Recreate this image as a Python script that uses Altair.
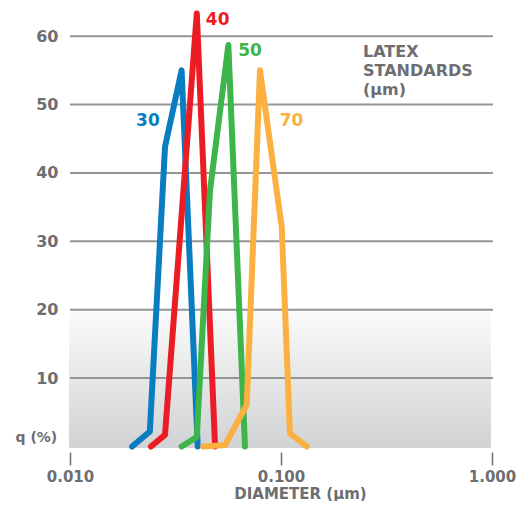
import altair as alt
import pandas as pd

# ---- data ----
sizes = ["30", "40", "50", "70"]
colors = ["#0a7cc1", "#ec1c24", "#3db54a", "#fbb040"]

d30_x = [0.0197, 0.0239, 0.0282, 0.0338, 0.0403]
d30_y = [0.0, 2.2, 43.8, 55.0, 0.0]
d40_x = [0.0242, 0.0282, 0.0399, 0.0487]
d40_y = [0.0, 1.7, 63.3, 0.0]
d50_x = [0.0338, 0.0399, 0.0461, 0.0563, 0.0675]
d50_y = [0.0, 1.4, 37.5, 58.7, 0.0]
d70_x = [0.0428, 0.0543, 0.0688, 0.0795, 0.1008, 0.1103, 0.1324]
d70_y = [0.0, 0.2, 6.1, 55.0, 32.1, 1.9, 0.0]

label_x = [0.0234, 0.0501, 0.0713, 0.1121]
label_y = [47.6, 62.4, 57.8, 47.6]

note_lines = ["LATEX", "STANDARDS", "(µm)"]
note_y = [57.7, 54.9, 52.1]
note_x = 0.2447

y_ticks = [10, 20, 30, 40, 50, 60]
x_ticks = [0.01, 0.1, 1.0]
shade_top = [20]

rows = []
for s, xs, ys in zip(sizes, [d30_x, d40_x, d50_x, d70_x], [d30_y, d40_y, d50_y, d70_y]):
    for i, (a, b) in enumerate(zip(xs, ys)):
        rows.append({"size": s, "d": a, "q": b, "i": i})
df = pd.DataFrame(rows)
lab_df = pd.DataFrame({"size": sizes, "d": label_x, "q": label_y})
note_df = pd.DataFrame({"t": note_lines, "q": note_y, "d": [note_x] * 3})

W, H = 422, 439
GRAY = "#6d6e71"
FONT = "DejaVu Sans"

x_scale = alt.Scale(type="log", domain=[0.01, 1.0], nice=False)
y_scale = alt.Scale(domain=[-0.22, 63.97], nice=False, zero=False)
color_scale = alt.Scale(domain=sizes, range=colors)

x_axis = alt.Axis(values=x_ticks, format=".3f", title="DIAMETER (µm)", grid=False,
                  domain=False, tickSize=13, offset=4, tickColor=GRAY, tickWidth=1.5,
                  labelPadding=4, labelFlush=False, labelFontSize=15,
                  titleX=230, titleY=49, titleAlign="center", titleBaseline="bottom",
                  titleFontSize=15)
y_axis = alt.Axis(values=y_ticks, grid=False, ticks=False, domain=False, labelPadding=12,
                  labelFontSize=16, title="q (%)", titleAngle=0, titleAlign="left",
                  titleBaseline="middle", titleX=-55, titleY=428, titleFontSize=14)

grad = alt.Gradient(gradient="linear",
                    stops=[alt.GradientStop(color="#fbfbfb", offset=0),
                           alt.GradientStop(color="#d1d2d4", offset=1)],
                    x1=0, x2=0, y1=0, y2=1)

bg = alt.Chart(pd.DataFrame({"q": shade_top})).mark_rect(fill=grad).encode(
    x=alt.value(-1), x2=alt.value(W - 1),
    y=alt.Y("q:Q", scale=y_scale, axis=y_axis), y2=alt.value(H))

grid = alt.Chart(pd.DataFrame({"q": y_ticks})).mark_rule(color="#939598", strokeWidth=2).encode(
    x=alt.value(0), x2=alt.value(W + 1),
    y=alt.Y("q:Q", scale=y_scale, axis=y_axis))

lines = alt.Chart(df).mark_line(strokeWidth=6, strokeCap="round", strokeJoin="round").encode(
    x=alt.X("d:Q", scale=x_scale, axis=x_axis),
    y=alt.Y("q:Q", scale=y_scale, axis=y_axis),
    color=alt.Color("size:N", scale=color_scale, legend=None),
    order=alt.Order("i:Q"))

labels = alt.Chart(lab_df).mark_text(font=FONT, fontWeight="bold", fontSize=17,
                                     align="center", baseline="middle").encode(
    x=alt.X("d:Q", scale=x_scale, axis=x_axis),
    y=alt.Y("q:Q", scale=y_scale, axis=y_axis),
    text="size:N",
    color=alt.Color("size:N", scale=color_scale, legend=None))

note = alt.Chart(note_df).mark_text(font=FONT, fontWeight="bold", fontSize=16, color=GRAY,
                                    align="left", baseline="middle").encode(
    x=alt.X("d:Q", scale=x_scale, axis=x_axis),
    y=alt.Y("q:Q", scale=y_scale, axis=y_axis),
    text="t:N")

chart = alt.layer(bg, grid, lines, labels, note).properties(
    width=W, height=H,
    autosize=alt.AutoSizeParams(type="none"),
    padding={"left": 62, "top": 1, "right": 26, "bottom": 53},
).configure_view(strokeWidth=0).configure_axis(
    labelFont=FONT, labelFontWeight="bold", labelColor=GRAY,
    titleFont=FONT, titleFontWeight="bold", titleColor=GRAY)

chart.save("out.html", embed_options={"renderer": "svg", "actions": False})
